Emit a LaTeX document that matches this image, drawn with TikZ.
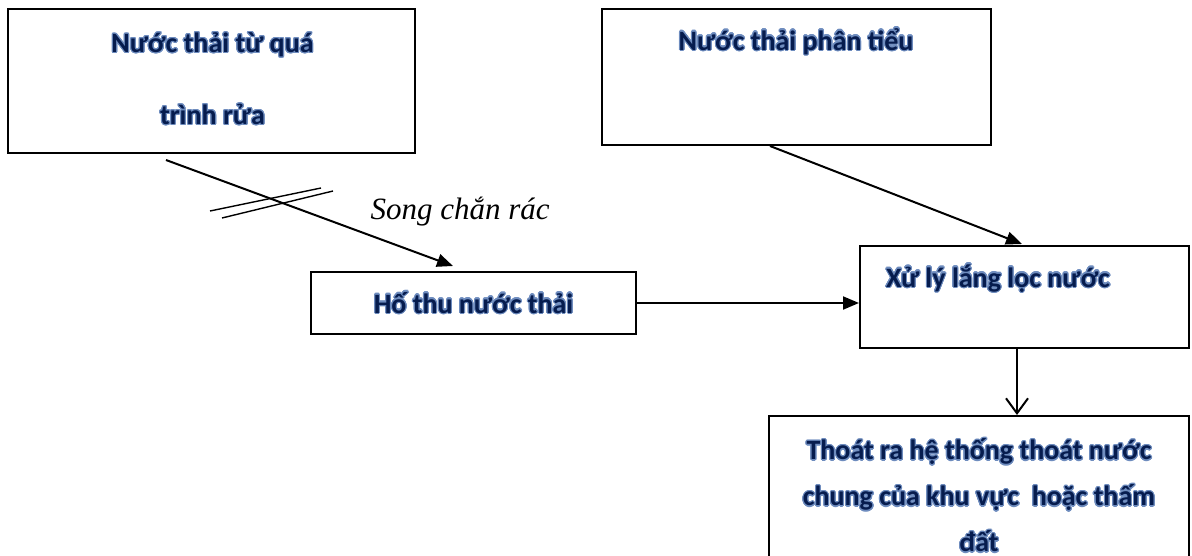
\documentclass[tikz,border=0pt]{standalone}
\usepackage{fontspec}
\setmainfont{Carlito}
\newfontfamily\timesfont{Liberation Serif}
\usepackage{contour}
\contourlength{1.1pt}
\contournumber{24}
\usetikzlibrary{arrows.meta,calc}
\definecolor{navy}{RGB}{6,28,78}
\definecolor{glow}{RGB}{110,140,190}
\newcommand{\glowtxt}[1]{\contour{glow}{#1}}

\begin{document}
\begin{tikzpicture}
  [
    x=1pt, y=-1pt,
    box/.style={draw, line width=2pt, inner sep=0pt},
    txt/.style={text=navy, align=center, font=\fontsize{28}{46}\selectfont\bfseries},
    flow/.style={line width=2pt, -{Triangle[length=16pt,width=13pt]}}
  ]
  \useasboundingbox (0,0) rectangle (1192,555);
  \node [box, minimum width=407pt, minimum height=144pt] at (211.5, 81) (wash) {};
  \node [box, minimum width=389pt, minimum height=136pt] at (796.5, 77) (urine) {};
  \node [box, minimum width=325pt, minimum height=62pt] at (473.5, 303) (pit) {};
  \node [box, minimum width=329pt, minimum height=102pt] at (1024.5, 297) (treat) {};
  \node [box, minimum width=420pt, minimum height=184pt] at (979, 508) (outlet) {};

  \node [txt, font=\fontsize{28}{72}\selectfont\bfseries] at (212.5, 79) (washtxt) {\glowtxt{Nước thải từ quá}\\\glowtxt{trình rửa}};
  \node [txt, anchor=base] at (796, 50) (urinetxt) {\glowtxt{Nước thải phân tiểu}};
  \node [txt, anchor=base] at (473.5, 313) (pittxt) {\glowtxt{Hố thu nước thải}};
  \node [txt, anchor=base] at (998, 287) (treattxt) {\glowtxt{Xử lý lắng lọc nước}};
  \node [txt] at (979, 496) (outlettxt) {\glowtxt{Thoát ra hệ thống thoát nước}\\\glowtxt{chung của khu vực\ \ hoặc thấm}\\\glowtxt{đất}};
  \node [anchor=base west, font=\fontsize{31}{36}\timesfont\itshape] at (367, 219) (screen) {Song chắn rác};

  % song chan rac
  \draw [line width=1.4pt] (210, 211) -- (321, 188);
  \draw [line width=1.4pt] (222, 218) -- (333, 191);

  \draw [flow] ($(wash.south)+(-45.5,6)$) -- ($(pit.north)+(-20.5,-5)$);
  \draw [flow] ($(urine.south)+(-26.5,0)$) -- ($(treat.north)+(-2.5,-1)$);
  \draw [flow] (pit.east) -- (pit.east -| treat.west);
  \coordinate (drop) at ($(treat.south)+(-7.5,0)$);
  \draw [line width=2pt, -{Straight Barb[length=15pt,width=22pt]}] (drop) -- (drop |- outlet.north);

\end{tikzpicture}
\end{document}
